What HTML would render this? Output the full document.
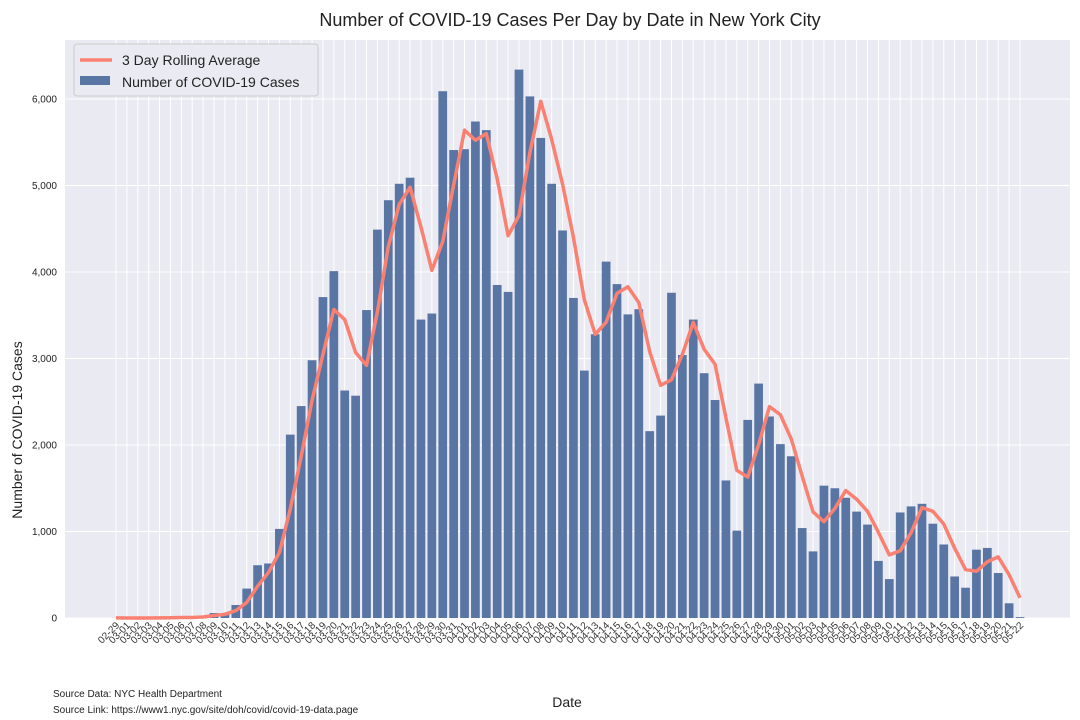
<!DOCTYPE html>
<html><head><meta charset="utf-8"><style>
body{margin:0;background:#fff;}
svg{display:block;font-family:"Liberation Sans",Arial,sans-serif;}
</style></head><body>
<svg id="chart" width="1080" height="720" viewBox="0 0 1080 720">
<text x="570" y="26" text-anchor="middle" font-size="18" fill="#222">Number of COVID-19 Cases Per Day by Date in New York City</text>
<rect x="65" y="40" width="1005" height="578" fill="#eaeaf2"/>
<g id="grid"></g><g id="bars"></g><g id="line"></g><g id="yticks"></g><g id="xticks"></g>
<text x="567" y="707" text-anchor="middle" font-size="14" fill="#222">Date</text>
<text transform="translate(22,430) rotate(-90)" text-anchor="middle" font-size="14" fill="#222">Number of COVID-19 Cases</text>
<text x="53" y="697" font-size="10" fill="#222">Source Data: NYC Health Department</text>
<text x="53" y="713" font-size="10" fill="#222">Source Link: https://www1.nyc.gov/site/doh/covid/covid-19-data.page</text>
<g>
<rect x="74" y="44" width="244" height="52" rx="3" fill="#eaeaf2" stroke="#cccccc"/>
<line x1="80" y1="60" x2="112" y2="60" stroke="#fa8072" stroke-width="3.5"/>
<text x="122" y="65" font-size="14" fill="#222">3 Day Rolling Average</text>
<rect x="80" y="76" width="30" height="9" fill="#5975a4"/>
<text x="122" y="87" font-size="14" fill="#222">Number of COVID-19 Cases</text>
</g>
</svg>
<script>
const dates = ["02-29","03-01","03-02","03-03","03-04","03-05","03-06","03-07","03-08","03-09","03-10","03-11","03-12","03-13","03-14","03-15","03-16","03-17","03-18","03-19","03-20","03-21","03-22","03-23","03-24","03-25","03-26","03-27","03-28","03-29","03-30","03-31","04-01","04-02","04-03","04-04","04-05","04-06","04-07","04-08","04-09","04-10","04-11","04-12","04-13","04-14","04-15","04-16","04-17","04-18","04-19","04-20","04-21","04-22","04-23","04-24","04-25","04-26","04-27","04-28","04-29","04-30","05-01","05-02","05-03","05-04","05-05","05-06","05-07","05-08","05-09","05-10","05-11","05-12","05-13","05-14","05-15","05-16","05-17","05-18","05-19","05-20","05-21","05-22"];
const cases = [1,0,0,1,5,3,8,7,21,57,50,150,340,610,630,1030,2120,2450,2980,3710,4010,2630,2570,3560,4490,4830,5020,5090,3450,3520,6090,5410,5420,5740,5640,3850,3770,6340,6030,5550,5020,4480,3700,2860,3280,4120,3860,3510,3570,2160,2340,3760,3040,3450,2830,2520,1590,1010,2290,2710,2330,2010,1870,1040,770,1530,1500,1390,1230,1080,660,450,1220,1290,1320,1090,850,480,350,790,810,520,170,10];
const yTicks = [0,1000,2000,3000,4000,5000,6000];
const yTickLabels = ["0","1,000","2,000","3,000","4,000","5,000","6,000"];
const NS="http://www.w3.org/2000/svg";
const x0=116, step=(1020-116)/83;
const xs=i=>x0+i*step;
const ys=v=>618-v*0.0865;
function mk(tag,attrs,parent){const e=document.createElementNS(NS,tag);for(const k in attrs)e.setAttribute(k,attrs[k]);document.getElementById(parent).appendChild(e);return e;}
yTicks.forEach((t,i)=>{
  const g=mk('line',{x1:65,x2:1070,y1:ys(t),y2:ys(t),stroke:'#fff','stroke-width':1},'grid');
  
  
  const l=mk('text',{x:57,y:ys(t)+3.5,'text-anchor':'end','font-size':10,fill:'#222'},'yticks');
  l.textContent=yTickLabels[i];
  
  
});
dates.forEach((d,i)=>{
  const g=mk('line',{x1:xs(i),x2:xs(i),y1:40,y2:618,stroke:'#fff','stroke-width':1},'grid');
  
  
  const bw=step*0.8;
  const b=mk('rect',{x:xs(i)-bw/2,y:ys(cases[i]),width:bw,height:618-ys(cases[i]),fill:'#5975a4'},'bars');
  
  
  const t=mk('text',{transform:`translate(${xs(i)+4},626) rotate(-45)`,'text-anchor':'end','font-size':10,fill:'#333'},'xticks');
  t.textContent=d;
  
  
});
const avg=cases.map((v,i)=>{const s=cases.slice(Math.max(0,i-2),i+1);return s.reduce((a,b)=>a+b,0)/s.length;});
const p=mk('polyline',{points:avg.map((v,i)=>xs(i)+','+ys(v)).join(' '),fill:'none',stroke:'#fa8072','stroke-width':3.5,'stroke-linejoin':'round'},'line');


</script>
</body></html>
